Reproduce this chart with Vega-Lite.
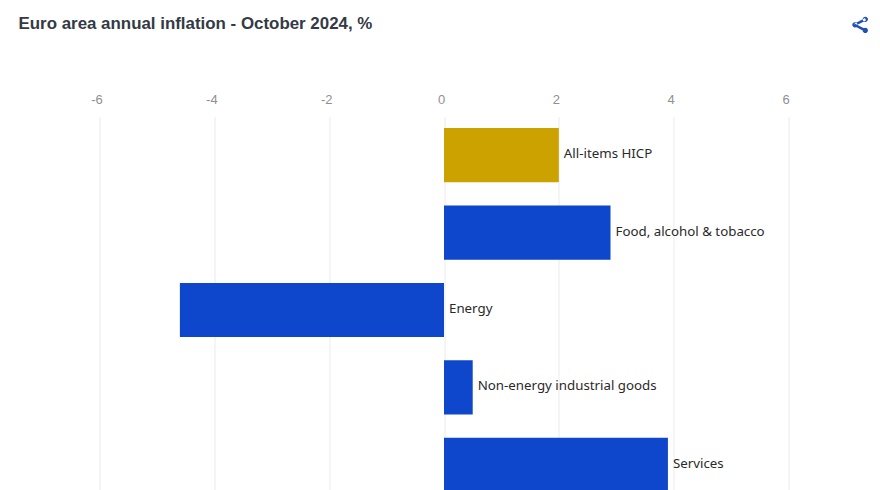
{
  "$schema": "https://vega.github.io/schema/vega-lite/v6.json",
  "autosize": {"type": "none"},
  "padding": {"left": 99.5, "top": 116.5, "right": 91.5, "bottom": 0},
  "width": 689,
  "height": 374,
  "background": "#ffffff",
  "title": {"text": "Euro area annual inflation - October 2024, %", "anchor": "start", "frame": "group", "dx": -81, "offset": -16, "font": "Liberation Sans", "fontSize": 16.9, "fontWeight": "bold", "color": "#333a45"},
  "config": {"view": {"stroke": null}},
  "datasets": {
    "bars": [
      {"name": "All-items HICP", "value": 2.0, "labelAt": 2.0, "group": "headline"},
      {"name": "Food, alcohol & tobacco", "value": 2.9, "labelAt": 2.9, "group": "component"},
      {"name": "Energy", "value": -4.6, "labelAt": 0, "group": "component"},
      {"name": "Non-energy industrial goods", "value": 0.5, "labelAt": 0.5, "group": "component"},
      {"name": "Services", "value": 3.9, "labelAt": 3.9, "group": "component"}
    ],
    "icon": [{"x": 7.25, "y": -0.245}]
  },
  "resolve": {"scale": {"y": "independent"}},
  "layer": [
    {
      "data": {"name": "bars"},
      "mark": {"type": "bar", "clip": true},
      "encoding": {
        "y": {"field": "name", "type": "nominal", "sort": null, "axis": null, "scale": {"range": [0, 387], "paddingInner": 0.3, "paddingOuter": 0.15}},
        "x": {"field": "value", "type": "quantitative", "scale": {"domain": [-6, 6], "nice": false},
          "axis": {"orient": "top", "title": null, "values": [-6, -4, -2, 0, 2, 4, 6], "labelExpr": "'' + datum.value", "labelFlush": false, "labelOverlap": false, "domain": false, "ticks": false, "grid": true, "gridColor": "#ebebeb", "gridWidth": 1, "labelColor": "#8f8f8f", "labelFont": "Liberation Sans", "labelFontSize": 13, "labelPadding": 10, "labelOffset": -3}},
        "color": {"field": "group", "type": "nominal", "legend": null, "scale": {"domain": ["headline", "component"], "range": ["#cba200", "#0e47cb"]}}
      }
    },
    {
      "data": {"name": "bars"},
      "mark": {"type": "text", "align": "left", "baseline": "middle", "dx": 5, "dy": -1, "font": "Noto Sans", "fontSize": 13.3, "color": "#2a2a2a", "clip": true},
      "encoding": {
        "y": {"field": "name", "type": "nominal", "sort": null, "axis": null, "scale": {"range": [0, 387], "paddingInner": 0.3, "paddingOuter": 0.15}},
        "x": {"field": "labelAt", "type": "quantitative"},
        "text": {"field": "name"}
      }
    },
    {
      "data": {"name": "icon"},
      "mark": {"type": "point", "filled": true, "opacity": 1, "color": "#1f50b4", "size": 256, "shape": "M-1,0a.33,.33 0 1,0 .66,0a.33,.33 0 1,0 -.66,0ZM.3,-.7a.33,.33 0 1,0 .66,0a.33,.33 0 1,0 -.66,0ZM.3,.7a.33,.33 0 1,0 .66,0a.33,.33 0 1,0 -.66,0ZM-.75,-.15L.6,-.85L.7,-.55L-.65,.15ZM-.75,.15L.6,.85L.7,.55L-.65,-.15Z"},
      "encoding": {
        "x": {"field": "x", "type": "quantitative"},
        "y": {"field": "y", "type": "quantitative", "axis": null, "scale": {"domain": [0, 1], "reverse": true, "nice": false, "zero": false}}
      }
    }
  ]
}
